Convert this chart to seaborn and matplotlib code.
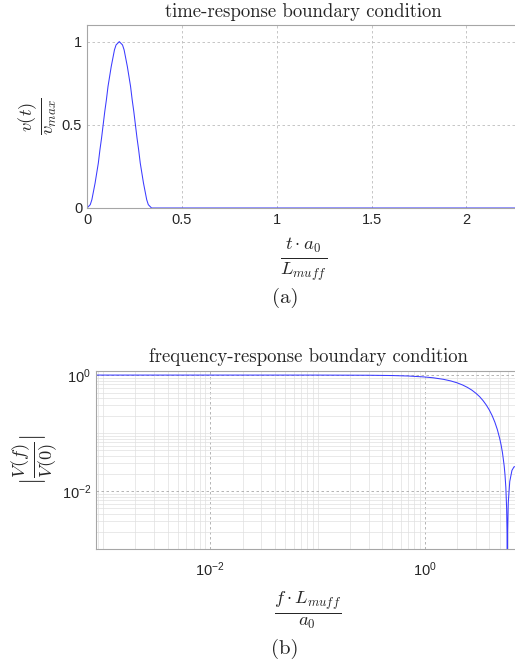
import numpy as np
import pandas as pd
import matplotlib
matplotlib.use("Agg")
import matplotlib.pyplot as plt
import matplotlib.ticker as mticker
import seaborn as sns

# ---- data ----
t_vals = [0.0, 0.0085, 0.017, 0.0255, 0.034, 0.0425, 0.051, 0.0595, 0.068, 0.0765,
          0.085, 0.0935, 0.102, 0.1105, 0.119, 0.1275, 0.136, 0.1445, 0.153, 0.1615,
          0.17, 0.1785, 0.187, 0.1955, 0.204, 0.2125, 0.221, 0.2295, 0.238, 0.2465,
          0.255, 0.2635, 0.272, 0.2805, 0.289, 0.2975, 0.306, 0.3145, 0.323, 0.3315,
          0.34, 1.0, 2.3]
v_vals = [0.0, 0.01, 0.02, 0.05, 0.10, 0.15, 0.21, 0.27, 0.35, 0.42,
          0.50, 0.58, 0.65, 0.73, 0.79, 0.85, 0.90, 0.95, 0.98, 0.99,
          1.00, 0.99, 0.98, 0.95, 0.90, 0.85, 0.79, 0.73, 0.65, 0.58,
          0.50, 0.42, 0.35, 0.27, 0.21, 0.15, 0.10, 0.05, 0.02, 0.01,
          0.0, 0.0, 0.0]

f_vals = [0.0008, 0.01, 0.1, 0.3, 0.5, 0.7, 1.0, 1.2, 1.5, 1.75, 2.0, 2.25, 2.5,
          2.75, 3.0, 3.25, 3.5, 3.75, 4.0, 4.25, 4.5, 4.75, 5.0, 5.15, 5.3, 5.5,
          5.6, 5.7, 5.8, 5.85, 5.88, 5.92, 6.0, 6.2, 6.5, 6.8, 7.1, 7.4, 7.7, 8.0]
mag_vals = [1.0, 1.0, 0.9993, 0.9932, 0.9817, 0.9639, 0.927, 0.8973, 0.8432, 0.7918,
            0.7355, 0.6752, 0.6127, 0.5494, 0.485, 0.4236, 0.3614, 0.3034, 0.2493,
            0.1994, 0.1544, 0.1147, 0.0801, 0.0621, 0.0460, 0.0272, 0.01884, 0.0115,
            0.00492, 0.00185, 1e-5, 0.00209, 0.00618, 0.01462, 0.0227, 0.0262,
            0.02624, 0.0237, 0.0193, 0.0150]

x_ticks_top = [0, 0.5, 1, 1.5, 2]
x_tick_labels_top = ["0", "0.5", "1", "1.5", "2"]
y_ticks_top = [0, 0.5, 1]
y_tick_labels_top = ["0", "0.5", "1"]

title_top = "time-response boundary condition"
title_bot = "frequency-response boundary condition"

# ---- style ----
sns.set_style("white")
plt.rcParams["font.family"] = ["Liberation Sans", "DejaVu Sans"]
plt.rcParams["mathtext.fontset"] = "custom"
plt.rcParams["mathtext.rm"] = "Liberation Sans"
plt.rcParams["mathtext.it"] = "Liberation Sans:italic"
plt.rcParams["mathtext.bf"] = "Liberation Sans:bold"

LINE = "#3b3bff"
SPINE = "#a6a6a6"
TXT = "#262626"
GRID = "#bdbdbd"

fig = plt.figure(figsize=(5.15, 6.66), dpi=100)
ax1 = fig.add_axes([0.169, 0.6877, 0.841, 0.2748])
ax2 = fig.add_axes([0.1864, 0.1757, 0.8236, 0.2677])

df_t = pd.DataFrame({"t": t_vals, "v": v_vals})
df_f = pd.DataFrame({"f": f_vals, "m": mag_vals})

sns.lineplot(data=df_t, x="t", y="v", ax=ax1, color=LINE, linewidth=0.75,
             sort=False, estimator=None)
sns.lineplot(data=df_f, x="f", y="m", ax=ax2, color=LINE, linewidth=0.75,
             sort=False, estimator=None)

# ---- top axes ----
ax1.set_xlim(0, 2.283)
ax1.set_ylim(0, 1.1)
ax1.set_xticks(x_ticks_top)
ax1.set_xticklabels(x_tick_labels_top)
ax1.set_yticks(y_ticks_top)
ax1.set_yticklabels(y_tick_labels_top)
ax1.grid(True, which="major", color=GRID, linestyle=(0, (3, 3)), linewidth=0.6)

# ---- bottom axes ----
ax2.set_xscale("log")
ax2.set_yscale("log")
ax2.set_xlim(8.6e-4, 7.75)
ax2.set_ylim(1e-3, 1.19)
ax2.xaxis.set_major_locator(mticker.LogLocator(base=100, numticks=10))
ax2.xaxis.set_minor_locator(mticker.LogLocator(base=10, subs=np.arange(1, 10), numticks=20))
ax2.yaxis.set_major_locator(mticker.LogLocator(base=100, numticks=10))
ax2.yaxis.set_minor_locator(mticker.LogLocator(base=10, subs=np.arange(1, 10), numticks=20))

def logfmt(v, pos):
    e = int(round(np.log10(v)))
    return r"$\mathregular{10^{%d}}$" % e

ax2.xaxis.set_major_formatter(mticker.FuncFormatter(logfmt))
ax2.yaxis.set_major_formatter(mticker.FuncFormatter(logfmt))
ax2.xaxis.set_minor_formatter(mticker.NullFormatter())
ax2.yaxis.set_minor_formatter(mticker.NullFormatter())
ax2.grid(True, which="minor", color="#e0e0e0", linestyle="-", linewidth=0.5)
ax2.grid(True, which="major", color="#a8a8a8", linestyle=(0, (3, 3)), linewidth=0.6)

for ax in (ax1, ax2):
    ax.set_axisbelow(True)
    for s in ("left", "bottom", "top"):
        ax.spines[s].set_color(SPINE)
        ax.spines[s].set_linewidth(0.8)
    ax.spines["right"].set_visible(False)
    ax.tick_params(axis="both", which="both", direction="in", colors=SPINE,
                   labelcolor=TXT, labelsize=10.5, width=0.6)
    ax.tick_params(which="major", length=4)
    ax.tick_params(which="minor", length=2.5)
ax2.tick_params(axis="x", which="major", pad=8)

# ---- labels (LaTeX-like) ----
ax1.set_title(title_top, fontfamily="cmr10", fontsize=13.5, color=TXT, pad=6)
ax2.set_title(title_bot, fontfamily="cmr10", fontsize=13.5, color=TXT, pad=6)

ax1.set_ylabel(r"$\frac{v(t)}{v_{max}}$", math_fontfamily="cm", fontsize=19,
               color=TXT, labelpad=2)
ax1.set_xlabel(r"$\frac{t\cdot a_0}{L_{muff}}$", math_fontfamily="cm", fontsize=19,
               color=TXT, labelpad=6)
ax2.set_ylabel(r"$|\frac{V(f)}{V(0)}|$", math_fontfamily="cm", fontsize=19,
               color=TXT, labelpad=2)
ax2.set_xlabel(r"$\frac{f\cdot L_{muff}}{a_0}$", math_fontfamily="cm", fontsize=19,
               color=TXT, labelpad=6)

fig.text(0.553, 1 - 298 / 666, "(a)", fontfamily="cmr10", fontsize=15, color=TXT,
         ha="center", va="center")
fig.text(0.553, 1 - 649 / 666, "(b)", fontfamily="cmr10", fontsize=15, color=TXT,
         ha="center", va="center")

fig.savefig("out.png", dpi=100)
